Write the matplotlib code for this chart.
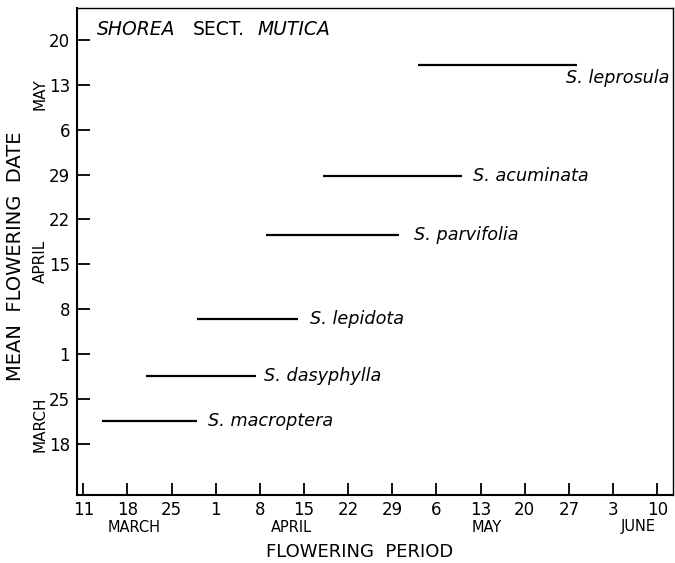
import matplotlib
matplotlib.use("Agg")
import matplotlib.pyplot as plt
import matplotlib.transforms as mtransforms

# Days counted from March 11
species = ["S. macroptera", "S. dasyphylla", "S. lepidota", "S. parvifolia", "S. acuminata", "S. leprosula"]
start_day = [3, 10, 18, 29, 38, 53]
end_day = [18, 27.4, 34, 50, 60, 78.3]
mean_day = [10.6, 17.5, 26.5, 39.6, 48.8, 66.1]

x_tick_days = [0, 7, 14, 21, 28, 35, 42, 49, 56, 63, 70, 77, 84, 91]
x_tick_labels = ["11", "18", "25", "1", "8", "15", "22", "29", "6", "13", "20", "27", "3", "10"]
y_tick_days = [7, 14, 21, 28, 35, 42, 49, 56, 63, 70]
y_tick_labels = ["18", "25", "1", "8", "15", "22", "29", "6", "13", "20"]

x_months = ["MARCH", "APRIL", "MAY", "JUNE"]
x_month_pos = [8, 33, 64, 88]
y_months = ["MARCH", "APRIL", "MAY"]
y_month_pos = [10, 35.5, 61.5]

fig = plt.figure(figsize=(6.75, 5.63), dpi=100)
ax = fig.add_axes([0.114, 0.1208, 0.883, 0.865])
ax.set_xlim(-1, 93.5)
ax.set_ylim(-1, 75)

for s, e, m in zip(start_day, end_day, mean_day):
    ax.plot([s, e], [m, m], color="black", lw=1.6, solid_capstyle="butt")

label_gap = [1.8, 1.3, 2.0, 2.4, 1.8]
for i in range(5):
    ax.text(end_day[i] + label_gap[i], mean_day[i], species[i], style="italic",
            fontsize=12.7, va="center", ha="left")
ax.text(93.0, 64.1, species[5], style="italic", fontsize=12.7, va="center", ha="right")

ax.text(2.2, 71.6, "SHOREA", style="italic", fontsize=13.5, va="center", ha="left")
ax.text(17.4, 71.6, "SECT.", fontsize=13.5, va="center", ha="left")
ax.text(27.7, 71.6, "MUTICA", style="italic", fontsize=13.5, va="center", ha="left")

ax.set_xticks(x_tick_days)
ax.set_xticklabels(x_tick_labels, fontsize=12)
ax.set_yticks(y_tick_days)
ax.set_yticklabels(y_tick_labels, fontsize=12)
ax.tick_params(axis="both", direction="in", length=9, width=1.3, pad=4)
ax.tick_params(axis="y", pad=5)
for sp in ax.spines.values():
    sp.set_linewidth(1.5)
for sp in ["top", "right"]:
    ax.spines[sp].set_linewidth(1.0)

tb = mtransforms.blended_transform_factory(ax.transData, fig.transFigure)
for name, pos in zip(x_months, x_month_pos):
    ax.text(pos, (563 - 527) / 563, name, transform=tb, fontsize=10.5, ha="center", va="center")
fig.text(360 / 675, (563 - 552) / 563, "FLOWERING  PERIOD", fontsize=13, ha="center", va="center")

tby = mtransforms.blended_transform_factory(fig.transFigure, ax.transData)
for name, pos in zip(y_months, y_month_pos):
    ax.text(40 / 675, pos, name, transform=tby, fontsize=11, rotation=90, ha="center", va="center")
fig.text(16 / 675, (563 - 256) / 563, "MEAN  FLOWERING  DATE", fontsize=14, rotation=90,
         ha="center", va="center")

fig.savefig("out.png", dpi=100)
